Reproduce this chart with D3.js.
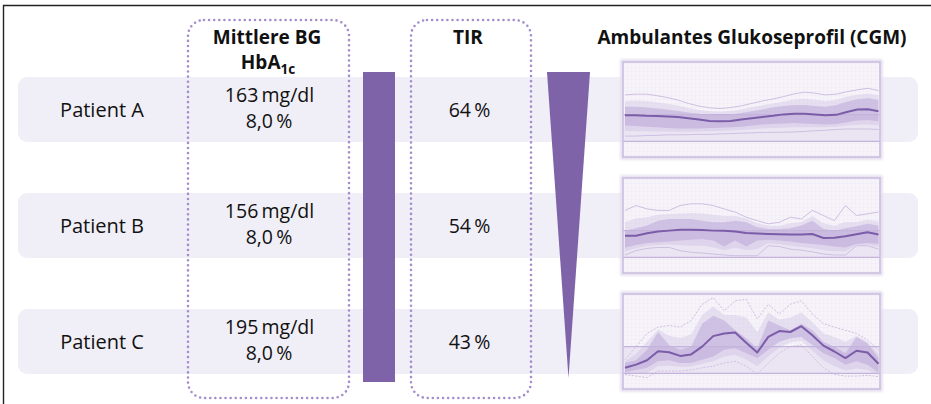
<!DOCTYPE html>
<html><head><meta charset="utf-8">
<script src="https://cdn.jsdelivr.net/npm/d3@7"></script>
<style>body{margin:0;background:#fff} svg{display:block} text{font-family:"Open Sans",sans-serif;fill:#111}</style>
</head><body><svg id="c" width="931" height="404"></svg>
<script>
// ---------- data ----------
const patients = ["Patient A", "Patient B", "Patient C"];
const meanBG = [163, 156, 195];
const hba1c = ["8,0", "8,0", "8,0"];
const tir = [64, 54, 43];
const headerBG = ["Mittlere BG", "HbA", "1c"];
const headerTIR = "TIR";
const headerCGM = "Ambulantes Glukoseprofil (CGM)";
const targetRange = [70, 180];
const glucoseDomain = [0, 400];

// Patient A (mg/dl over 24 h)
const p95A = [261,264,264,258,250,240,226,215,208,205,209,216,226,236,244,254,265,272,268,261,264,274,282,288,279];
const p90A = [236,238,236,231,225,217,207,199,194,192,195,201,210,218,226,234,242,245,241,236,241,253,262,267,259];
const p75A = [212,212,209,205,201,195,189,184,180,180,181,187,194,201,209,215,219,219,215,212,219,233,243,247,240];
const medA = [177,177,175,174,172,170,165,160,154,153,154,160,165,170,175,181,184,184,181,177,179,191,201,202,194];
const p25A = [135,133,130,128,125,123,123,123,125,126,128,130,135,139,142,144,146,144,142,139,142,149,156,158,153];
const p10A = [113,112,112,111,111,110,110,111,112,113,115,117,120,123,125,126,128,128,128,128,130,135,138,139,136];
const p5A  = [92,92,94,95,97,97,98,99,99,101,102,104,105,107,107,108,109,111,114,116,119,121,121,121,119];
// Patient B
const p95B = [263,283,269,263,263,283,290,290,283,269,256,235,221,208,214,235,228,263,242,221,283,242,249,256];
const p90B = [215,230,235,245,248,250,252,250,245,240,240,230,210,200,200,210,215,240,210,200,215,215,225,220];
const p75B = [180,190,201,221,228,228,228,221,214,214,221,214,194,187,187,190,201,221,187,180,190,198,208,201];
const medB = [159,159,169,176,180,184,184,183,180,179,176,170,168,166,165,164,164,166,150,151,157,165,173,164];
const p25B = [111,121,129,132,135,139,143,146,139,115,139,115,139,143,139,135,129,125,121,115,111,125,129,125];
const p10B = [95,108,118,121,123,120,118,118,112,100,110,100,105,128,125,118,113,108,100,95,95,120,122,112];
const p5B  = [80,98,107,111,111,98,91,88,84,80,77,77,77,118,115,104,100,93,84,80,80,118,118,104];
// Patient C
const p95C = [126,180,234,260,267,260,287,354,381,327,368,374,294,354,314,354,368,314,274,260,247,234,207,167];
const p90C = [120,150,200,250,225,215,230,310,345,310,310,300,240,320,290,300,320,280,235,220,200,225,200,150];
const p75C = [113,124,167,240,187,167,180,274,307,287,247,214,173,287,267,247,274,247,200,180,153,220,193,133];
const medC = [93,106,124,161,157,142,148,180,223,234,238,196,156,220,244,240,264,227,184,160,133,163,156,110];
const p25C = [75,84,93,120,124,113,113,126,140,167,173,153,133,167,200,214,220,187,153,133,106,120,106,75];
const p10C = [70,70,72,100,102,97,98,110,120,140,146,127,100,140,176,197,203,163,123,100,82,90,84,66];
const p5C  = [66,59,53,80,80,80,84,93,100,113,120,100,66,113,153,180,187,140,93,66,59,59,62,57];

const profiles = [
  {p95: p95A, p90: p90A, p75: p75A, med: medA, p25: p25A, p10: p10A, p5: p5A},
  {p95: p95B, p90: p90B, p75: p75B, med: medB, p25: p25B, p10: p10B, p5: p5B},
  {p95: p95C, p90: p90C, p75: p75C, med: medC, p25: p25C, p10: p10C, p5: p5C}
];

// ---------- layout ----------
const svg = d3.select("#c");
const purple = "#7f63a9";
const dotCol = "#a58dcd";
const rowY = d3.scalePoint().domain(patients).range([109.5, 341.5]);
const bandH = 65;
const panelX0 = 623, panelX1 = 880, panelH = 95;
const fsReg = 19.5, fsBold = 19;

const defs = svg.append("defs");
const pat = defs.append("pattern").attr("id","grid").attr("width",4).attr("height",4).attr("patternUnits","userSpaceOnUse");
pat.append("rect").attr("width",4).attr("height",4).attr("fill","#f6f3f9");
pat.append("path").attr("d","M4 0V4M0 4H4").attr("stroke","#ebe6f2").attr("stroke-width",0.6);
const blur = defs.append("filter").attr("id","soft").attr("x","-10%").attr("y","-10%").attr("width","120%").attr("height","120%");
blur.append("feGaussianBlur").attr("stdDeviation",0.8);

// frame
svg.append("path").attr("d","M3.5 404V5.5H931").attr("fill","none").attr("stroke","#222").attr("stroke-width",1.4);

// row bands
svg.selectAll("rect.band").data(patients).join("rect").attr("class","band")
  .attr("x",18).attr("width",900).attr("y",d=>rowY(d)-bandH/2).attr("height",bandH)
  .attr("rx",9).attr("fill","#f0eef6");

// dotted boxes
[[188,161],[411,120]].forEach(([x,w])=>{
  svg.append("rect").attr("x",x).attr("y",20).attr("width",w).attr("height",378).attr("rx",16)
    .attr("fill","none").attr("stroke",dotCol).attr("stroke-width",2.6)
    .attr("stroke-dasharray","0 5.1").attr("stroke-linecap","round");
});

// headers
const hY = 43.5;
svg.append("text").attr("x",267).attr("y",hY).attr("text-anchor","middle").attr("font-weight",700).attr("font-size",fsBold).text(headerBG[0]);
const hb = svg.append("text").attr("x",268).attr("y",68.5).attr("text-anchor","middle").attr("font-weight",700).attr("font-size",fsBold);
hb.append("tspan").text(headerBG[1]);
hb.append("tspan").attr("dy",5).attr("font-size",13.5).text(headerBG[2]);
svg.append("text").attr("x",468).attr("y",hY).attr("text-anchor","middle").attr("font-weight",700).attr("font-size",fsBold).text(headerTIR);
svg.append("text").attr("x",752).attr("y",hY).attr("text-anchor","middle").attr("font-weight",700).attr("font-size",fsBold).text(headerCGM);

// patient labels
svg.selectAll("text.pat").data(patients).join("text").attr("class","pat")
  .attr("x",102).attr("y",d=>rowY(d)+7).attr("text-anchor","middle").attr("font-size",20).text(d=>d);

// mean BG / HbA1c / TIR
patients.forEach((p,i)=>{
  svg.append("text").attr("x",269.5).attr("y",rowY(p)-8).attr("text-anchor","middle").attr("font-size",fsReg)
    .text(meanBG[i]+"\u2009mg/dl");
  svg.append("text").attr("x",269).attr("y",rowY(p)+18).attr("text-anchor","middle").attr("font-size",fsReg)
    .text(hba1c[i]+"\u2009%");
  svg.append("text").attr("x",469.5).attr("y",rowY(p)+7).attr("text-anchor","middle").attr("font-size",fsReg)
    .text(tir[i]+"\u2009%");
});

// decorative bar and wedge spanning rows
const topY = rowY(patients[0]) - bandH/2 - 5;
const botY = rowY(patients[2]) + bandH/2 + 8;
svg.append("rect").attr("x",363).attr("y",topY).attr("width",32).attr("height",botY-topY).attr("fill",purple);
svg.append("path").attr("d",`M547 ${topY}L590 ${topY}L568.5 ${botY-4}Z`).attr("fill",purple);

// CGM panels
profiles.forEach((pr,i)=>{
  const cy = rowY(patients[i]);
  const top = cy - panelH/2;
  const g = svg.append("g");
  const y = d3.scaleLinear().domain(glucoseDomain).range([top+panelH+1.5, top-1]);
  const n = pr.med.length;
  const x = d3.scaleLinear().domain([0,n-1]).range([panelX0+2, panelX1-1.5]);
  const cid = "clip"+i;
  defs.append("clipPath").attr("id",cid).append("rect").attr("x",panelX0).attr("y",top).attr("width",panelX1-panelX0).attr("height",panelH);
  g.append("rect").attr("x",panelX0-1).attr("y",top-1).attr("width",panelX1-panelX0+2).attr("height",panelH+2)
    .attr("fill","none").attr("stroke","#e6dff0").attr("stroke-width",3.5).attr("filter","url(#soft)");
  g.append("rect").attr("x",panelX0).attr("y",top).attr("width",panelX1-panelX0).attr("height",panelH).attr("fill","url(#grid)");
  const c = g.append("g").attr("clip-path",`url(#${cid})`);
  c.append("rect").attr("x",panelX0).attr("width",panelX1-panelX0).attr("y",y(targetRange[1])).attr("height",y(targetRange[0])-y(targetRange[1]))
    .attr("fill","#ebe5f3");
  const idx = d3.range(n);
  const area = (lo,hi)=>d3.area().x(j=>x(j)).y0(j=>y(lo[j])).y1(j=>y(hi[j]));
  c.append("path").attr("d",area(pr.p10,pr.p90)(idx)).attr("fill","#b9a5d6").attr("opacity",0.25);
  c.append("path").attr("d",area(pr.p25,pr.p75)(idx)).attr("fill","#b39ed3").attr("opacity",0.45);
  const line = arr=>d3.line().x(j=>x(j)).y(j=>y(arr[j]))(idx);
  [pr.p95, pr.p5].forEach(a=>c.append("path").attr("d",line(a)).attr("fill","none").attr("stroke","#cdc0e2").attr("stroke-width",1).attr("stroke-dasharray",i===2?"2 1.5":null));
  targetRange.forEach(v=>c.append("line").attr("x1",panelX0).attr("x2",panelX1).attr("y1",y(v)).attr("y2",y(v)).attr("stroke","#c4b4db").attr("stroke-width",1.2));
  c.append("path").attr("d",line(pr.med)).attr("fill","none").attr("stroke","#7b5ca8").attr("stroke-width",2).attr("stroke-linejoin","round");
  g.append("rect").attr("x",panelX0).attr("y",top).attr("width",panelX1-panelX0).attr("height",panelH)
    .attr("fill","none").attr("stroke","#cbbfe0").attr("stroke-width",1.6);
});
</script></body></html>
